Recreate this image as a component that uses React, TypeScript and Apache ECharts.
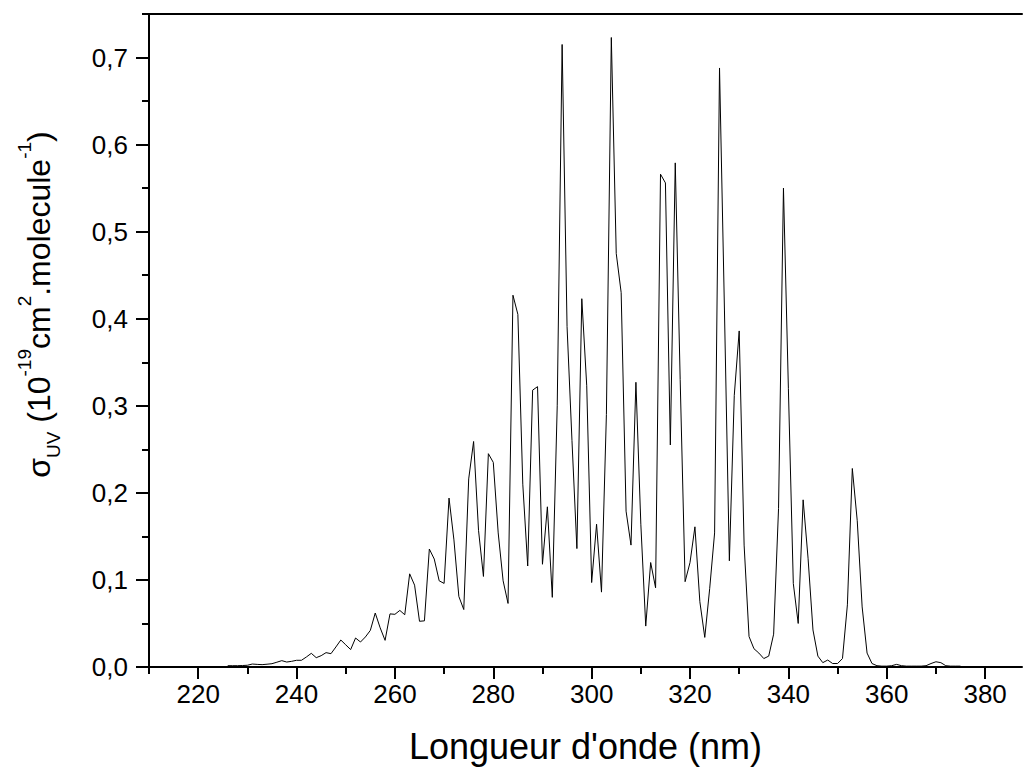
import React, { useEffect, useRef } from 'react';
import * as echarts from 'echarts';

const wavelengths = [
  226, 227, 228, 229, 230, 231, 232, 233, 234, 235, 236, 237, 238, 239, 240,
  241, 242, 243, 244, 245, 246, 247, 248, 249, 250, 251, 252, 253, 254, 255,
  256, 257, 258, 259, 260, 261, 262, 263, 264, 265, 266, 267, 268, 269, 270,
  271, 272, 273, 274, 275, 276, 277, 278, 279, 280, 281, 282, 283, 284, 285,
  286, 287, 288, 289, 290, 291, 292, 293, 294, 295, 296, 297, 298, 299, 300,
  301, 302, 303, 304, 305, 306, 307, 308, 309, 310, 311, 312, 313, 314, 315,
  316, 317, 318, 319, 320, 321, 322, 323, 324, 325, 326, 327, 328, 329, 330,
  331, 332, 333, 334, 335, 336, 337, 338, 339, 340, 341, 342, 343, 344, 345,
  346, 347, 348, 349, 350, 351, 352, 353, 354, 355, 356, 357, 358, 359, 360,
  361, 362, 363, 364, 365, 366, 367, 368, 369, 370, 371, 372, 373, 374, 375,
];

const sigma = [
  0.0015, 0.0015, 0.0015, 0.0017, 0.002, 0.0034, 0.003, 0.0027, 0.0032, 0.0038, 0.0055, 0.0073, 0.0057, 0.0065, 0.0077,
  0.0077, 0.0115, 0.0157, 0.0107, 0.013, 0.0165, 0.0153, 0.023, 0.031, 0.0255, 0.02, 0.0333, 0.0287, 0.0345, 0.042,
  0.062, 0.045, 0.0306, 0.061, 0.0605, 0.065, 0.06, 0.107, 0.094, 0.0525, 0.053, 0.1355, 0.124, 0.099, 0.096,
  0.194, 0.146, 0.081, 0.066, 0.216, 0.259, 0.157, 0.104, 0.245, 0.235, 0.154, 0.099, 0.073, 0.427, 0.405,
  0.21, 0.116, 0.318, 0.322, 0.118, 0.184, 0.08, 0.3, 0.715, 0.391, 0.26, 0.136, 0.423, 0.323, 0.097,
  0.164, 0.086, 0.29, 0.723, 0.475, 0.43, 0.179, 0.14, 0.327, 0.164, 0.047, 0.12, 0.091, 0.566, 0.556,
  0.255, 0.579, 0.33, 0.098, 0.12, 0.161, 0.075, 0.034, 0.09, 0.154, 0.688, 0.41, 0.122, 0.312, 0.386,
  0.14, 0.035, 0.021, 0.016, 0.0097, 0.0125, 0.0377, 0.182, 0.55, 0.32, 0.096, 0.05, 0.192, 0.125, 0.0425,
  0.0125, 0.005, 0.008, 0.004, 0.004, 0.0097, 0.0714, 0.228, 0.168, 0.069, 0.016, 0.004, 0.0015, 0.001, 0.001,
  0.0015, 0.003, 0.0015, 0.001, 0.001, 0.001, 0.001, 0.0015, 0.004, 0.006, 0.005, 0.0015, 0.001, 0.001, 0.001,
];

const xMajorTicks = [220, 240, 260, 280, 300, 320, 340, 360, 380];
const xMinorTicks = [210, 230, 250, 270, 290, 310, 330, 350, 370];
const yMajorTicks = [0, 0.1, 0.2, 0.3, 0.4, 0.5, 0.6, 0.7];
const yMinorTicks = [0.05, 0.15, 0.25, 0.35, 0.45, 0.55, 0.65, 0.75];

const FONT = '"Liberation Sans", Arial, Helvetica, sans-serif';
const X_MIN = 210;
const X_MAX = 387.5;
const Y_MIN = 0;
const Y_MAX = 0.75;

export default function App() {
  const ref = useRef<HTMLDivElement>(null);

  useEffect(() => {
    if (!ref.current) return;
    const chart = echarts.init(ref.current, undefined, { renderer: 'svg' });
    const axisLine = { show: true, lineStyle: { color: '#000', width: 2 } };
    chart.setOption({
      animation: false,
      backgroundColor: '#fff',
      grid: { left: 149, top: 14, width: 873, height: 653, containLabel: false, outerBoundsMode: 'none' },
      xAxis: [
        {
          type: 'value', position: 'bottom', min: X_MIN, max: X_MAX,
          axisLine,
          axisTick: { show: true, inside: false, customValues: xMajorTicks, length: 12, lineStyle: { color: '#000', width: 2 } },
          axisLabel: { customValues: xMajorTicks, fontSize: 26, color: '#000', fontFamily: FONT, margin: 14 },
          splitLine: { show: false },
          name: "Longueur d'onde (nm)",
          nameLocation: 'middle',
          nameGap: 61,
          nameTextStyle: { fontSize: 36, color: '#000', fontFamily: FONT },
        },
        {
          type: 'value', position: 'bottom', offset: 0, min: X_MIN, max: X_MAX,
          axisLine: { show: false },
          axisTick: { show: true, inside: false, customValues: xMinorTicks, length: 7, lineStyle: { color: '#000', width: 2 } },
          axisLabel: { show: false },
          splitLine: { show: false },
        },
        {
          type: 'value', position: 'top', min: X_MIN, max: X_MAX,
          axisLine,
          axisTick: { show: false },
          axisLabel: { show: false },
          splitLine: { show: false },
        },
      ],
      yAxis: [
        {
          type: 'value', position: 'left', min: Y_MIN, max: Y_MAX,
          axisLine,
          axisTick: { show: true, inside: false, customValues: yMajorTicks, length: 13, lineStyle: { color: '#000', width: 2 } },
          axisLabel: {
            customValues: yMajorTicks, fontSize: 26, color: '#000', fontFamily: FONT, margin: 21,
            formatter: (v: number) => v.toFixed(1).replace('.', ','),
          },
          splitLine: { show: false },
          name: '{s|σ}{sub|UV}{s| (10}{sup|-19}{s|cm}{sup|2}{s|.molecule}{sup|-1}{s|)}',
          nameLocation: 'middle',
          nameRotate: 90,
          nameGap: 86,
          nameTextStyle: {
            color: '#000',
            fontFamily: FONT,
            padding: [0, 0, 0, 72],
            rich: {
              s: { fontSize: 32, lineHeight: 48, fontFamily: FONT, color: '#000' },
              sub: { fontSize: 19, lineHeight: 19, verticalAlign: 'bottom', fontFamily: FONT, color: '#000' },
              sup: { fontSize: 19, lineHeight: 19, verticalAlign: 'top', fontFamily: FONT, color: '#000' },
            },
          },
        },
        {
          type: 'value', position: 'left', offset: 0, min: Y_MIN, max: Y_MAX,
          axisLine: { show: false },
          axisTick: { show: true, inside: false, customValues: yMinorTicks, length: 7, lineStyle: { color: '#000', width: 2 } },
          axisLabel: { show: false },
          splitLine: { show: false },
        },
      ],
      series: [
        {
          type: 'line',
          xAxisIndex: 0,
          yAxisIndex: 0,
          data: wavelengths.map((w, i) => [w, sigma[i]]),
          showSymbol: false,
          symbol: 'none',
          lineStyle: { color: '#000', width: 1 },
          silent: true,
        },
      ],
    });
    return () => chart.dispose();
  }, []);

  return (
    <div
      ref={ref}
      style={{ position: 'absolute', left: 0, top: 0, width: 1024, height: 767 }}
    />
  );
}
